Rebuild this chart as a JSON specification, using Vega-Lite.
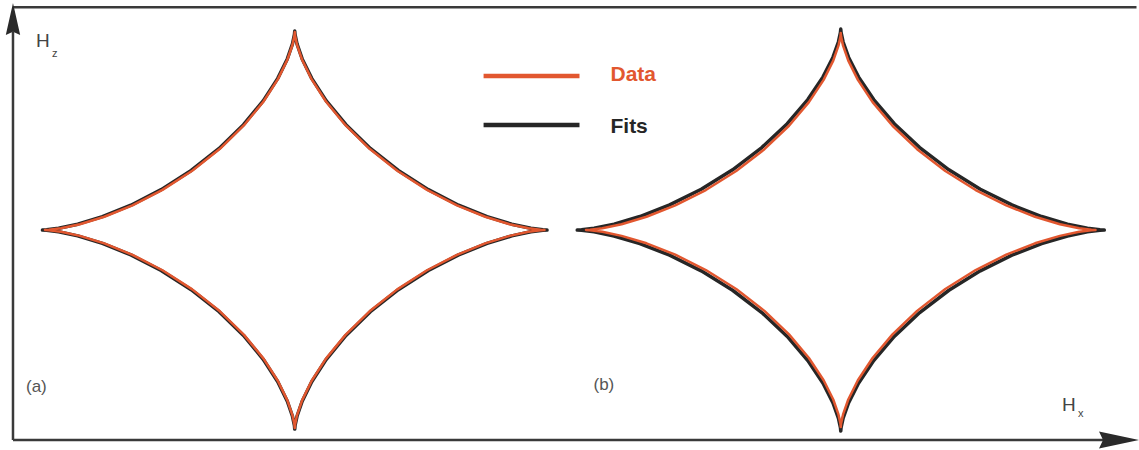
{
  "$schema": "https://vega.github.io/schema/vega-lite/v6.json",
  "autosize": {"type": "fit", "contains": "padding"},
  "width": 1139,
  "height": 450,
  "padding": 0,
  "background": "white",
  "config": {"view": {"stroke": null}, "font": "Liberation Sans"},
  "datasets": {
    "curves": [
      {"c":"aD","s":"Data","i":0,"x":1,"y":0},{"c":"aD","s":"Data","i":1,"x":0.9836,"y":0.0011},{"c":"aD","s":"Data","i":2,"x":0.9359,"y":0.009},{"c":"aD","s":"Data","i":3,"x":0.8602,"y":0.0295},{"c":"aD","s":"Data","i":4,"x":0.7624,"y":0.0673},{"c":"aD","s":"Data","i":5,"x":0.6495,"y":0.125},{"c":"aD","s":"Data","i":6,"x":0.5295,"y":0.2031},{"c":"aD","s":"Data","i":7,"x":0.4104,"y":0.2996},{"c":"aD","s":"Data","i":8,"x":0.2996,"y":0.4104},{"c":"aD","s":"Data","i":9,"x":0.2031,"y":0.5295},{"c":"aD","s":"Data","i":10,"x":0.125,"y":0.6495},{"c":"aD","s":"Data","i":11,"x":0.0673,"y":0.7624},{"c":"aD","s":"Data","i":12,"x":0.0295,"y":0.8602},{"c":"aD","s":"Data","i":13,"x":0.009,"y":0.9359},{"c":"aD","s":"Data","i":14,"x":0.0011,"y":0.9836},{"c":"aD","s":"Data","i":15,"x":0,"y":1},
      {"c":"aD","s":"Data","i":16,"x":-0.0011,"y":0.9836},{"c":"aD","s":"Data","i":17,"x":-0.009,"y":0.9359},{"c":"aD","s":"Data","i":18,"x":-0.0295,"y":0.8602},{"c":"aD","s":"Data","i":19,"x":-0.0673,"y":0.7624},{"c":"aD","s":"Data","i":20,"x":-0.125,"y":0.6495},{"c":"aD","s":"Data","i":21,"x":-0.2031,"y":0.5295},{"c":"aD","s":"Data","i":22,"x":-0.2996,"y":0.4104},{"c":"aD","s":"Data","i":23,"x":-0.4104,"y":0.2996},{"c":"aD","s":"Data","i":24,"x":-0.5295,"y":0.2031},{"c":"aD","s":"Data","i":25,"x":-0.6495,"y":0.125},{"c":"aD","s":"Data","i":26,"x":-0.7624,"y":0.0673},{"c":"aD","s":"Data","i":27,"x":-0.8602,"y":0.0295},{"c":"aD","s":"Data","i":28,"x":-0.9359,"y":0.009},{"c":"aD","s":"Data","i":29,"x":-0.9836,"y":0.0011},{"c":"aD","s":"Data","i":30,"x":-1,"y":0},
      {"c":"aD","s":"Data","i":31,"x":-0.9836,"y":-0.0011},{"c":"aD","s":"Data","i":32,"x":-0.9359,"y":-0.009},{"c":"aD","s":"Data","i":33,"x":-0.8602,"y":-0.0295},{"c":"aD","s":"Data","i":34,"x":-0.7624,"y":-0.0673},{"c":"aD","s":"Data","i":35,"x":-0.6495,"y":-0.125},{"c":"aD","s":"Data","i":36,"x":-0.5295,"y":-0.2031},{"c":"aD","s":"Data","i":37,"x":-0.4104,"y":-0.2996},{"c":"aD","s":"Data","i":38,"x":-0.2996,"y":-0.4104},{"c":"aD","s":"Data","i":39,"x":-0.2031,"y":-0.5295},{"c":"aD","s":"Data","i":40,"x":-0.125,"y":-0.6495},{"c":"aD","s":"Data","i":41,"x":-0.0673,"y":-0.7624},{"c":"aD","s":"Data","i":42,"x":-0.0295,"y":-0.8602},{"c":"aD","s":"Data","i":43,"x":-0.009,"y":-0.9359},{"c":"aD","s":"Data","i":44,"x":-0.0011,"y":-0.9836},{"c":"aD","s":"Data","i":45,"x":0,"y":-1},
      {"c":"aD","s":"Data","i":46,"x":0.0011,"y":-0.9836},{"c":"aD","s":"Data","i":47,"x":0.009,"y":-0.9359},{"c":"aD","s":"Data","i":48,"x":0.0295,"y":-0.8602},{"c":"aD","s":"Data","i":49,"x":0.0673,"y":-0.7624},{"c":"aD","s":"Data","i":50,"x":0.125,"y":-0.6495},{"c":"aD","s":"Data","i":51,"x":0.2031,"y":-0.5295},{"c":"aD","s":"Data","i":52,"x":0.2996,"y":-0.4104},{"c":"aD","s":"Data","i":53,"x":0.4104,"y":-0.2996},{"c":"aD","s":"Data","i":54,"x":0.5295,"y":-0.2031},{"c":"aD","s":"Data","i":55,"x":0.6495,"y":-0.125},{"c":"aD","s":"Data","i":56,"x":0.7624,"y":-0.0673},{"c":"aD","s":"Data","i":57,"x":0.8602,"y":-0.0295},{"c":"aD","s":"Data","i":58,"x":0.9359,"y":-0.009},{"c":"aD","s":"Data","i":59,"x":0.9836,"y":-0.0011},{"c":"aD","s":"Data","i":60,"x":1,"y":0},

      {"c":"aF","s":"Fits","i":0,"x":1.01,"y":0},{"c":"aF","s":"Fits","i":1,"x":0.9934,"y":0.0011},{"c":"aF","s":"Fits","i":2,"x":0.9453,"y":0.009},{"c":"aF","s":"Fits","i":3,"x":0.8688,"y":0.0296},{"c":"aF","s":"Fits","i":4,"x":0.77,"y":0.0676},{"c":"aF","s":"Fits","i":5,"x":0.656,"y":0.1256},{"c":"aF","s":"Fits","i":6,"x":0.5348,"y":0.2041},{"c":"aF","s":"Fits","i":7,"x":0.4145,"y":0.3011},{"c":"aF","s":"Fits","i":8,"x":0.3026,"y":0.4125},{"c":"aF","s":"Fits","i":9,"x":0.2051,"y":0.5321},{"c":"aF","s":"Fits","i":10,"x":0.1263,"y":0.6527},{"c":"aF","s":"Fits","i":11,"x":0.068,"y":0.7662},{"c":"aF","s":"Fits","i":12,"x":0.0298,"y":0.8645},{"c":"aF","s":"Fits","i":13,"x":0.0091,"y":0.9406},{"c":"aF","s":"Fits","i":14,"x":0.0011,"y":0.9885},{"c":"aF","s":"Fits","i":15,"x":0,"y":1.005},
      {"c":"aF","s":"Fits","i":16,"x":-0.0011,"y":0.9885},{"c":"aF","s":"Fits","i":17,"x":-0.0091,"y":0.9406},{"c":"aF","s":"Fits","i":18,"x":-0.0298,"y":0.8645},{"c":"aF","s":"Fits","i":19,"x":-0.068,"y":0.7662},{"c":"aF","s":"Fits","i":20,"x":-0.1263,"y":0.6527},{"c":"aF","s":"Fits","i":21,"x":-0.2051,"y":0.5321},{"c":"aF","s":"Fits","i":22,"x":-0.3026,"y":0.4125},{"c":"aF","s":"Fits","i":23,"x":-0.4145,"y":0.3011},{"c":"aF","s":"Fits","i":24,"x":-0.5348,"y":0.2041},{"c":"aF","s":"Fits","i":25,"x":-0.656,"y":0.1256},{"c":"aF","s":"Fits","i":26,"x":-0.77,"y":0.0676},{"c":"aF","s":"Fits","i":27,"x":-0.8688,"y":0.0296},{"c":"aF","s":"Fits","i":28,"x":-0.9453,"y":0.009},{"c":"aF","s":"Fits","i":29,"x":-0.9934,"y":0.0011},{"c":"aF","s":"Fits","i":30,"x":-1.01,"y":0},
      {"c":"aF","s":"Fits","i":31,"x":-0.9934,"y":-0.0011},{"c":"aF","s":"Fits","i":32,"x":-0.9453,"y":-0.009},{"c":"aF","s":"Fits","i":33,"x":-0.8688,"y":-0.0296},{"c":"aF","s":"Fits","i":34,"x":-0.77,"y":-0.0676},{"c":"aF","s":"Fits","i":35,"x":-0.656,"y":-0.1256},{"c":"aF","s":"Fits","i":36,"x":-0.5348,"y":-0.2041},{"c":"aF","s":"Fits","i":37,"x":-0.4145,"y":-0.3011},{"c":"aF","s":"Fits","i":38,"x":-0.3026,"y":-0.4125},{"c":"aF","s":"Fits","i":39,"x":-0.2051,"y":-0.5321},{"c":"aF","s":"Fits","i":40,"x":-0.1263,"y":-0.6527},{"c":"aF","s":"Fits","i":41,"x":-0.068,"y":-0.7662},{"c":"aF","s":"Fits","i":42,"x":-0.0298,"y":-0.8645},{"c":"aF","s":"Fits","i":43,"x":-0.0091,"y":-0.9406},{"c":"aF","s":"Fits","i":44,"x":-0.0011,"y":-0.9885},{"c":"aF","s":"Fits","i":45,"x":0,"y":-1.005},
      {"c":"aF","s":"Fits","i":46,"x":0.0011,"y":-0.9885},{"c":"aF","s":"Fits","i":47,"x":0.0091,"y":-0.9406},{"c":"aF","s":"Fits","i":48,"x":0.0298,"y":-0.8645},{"c":"aF","s":"Fits","i":49,"x":0.068,"y":-0.7662},{"c":"aF","s":"Fits","i":50,"x":0.1263,"y":-0.6527},{"c":"aF","s":"Fits","i":51,"x":0.2051,"y":-0.5321},{"c":"aF","s":"Fits","i":52,"x":0.3026,"y":-0.4125},{"c":"aF","s":"Fits","i":53,"x":0.4145,"y":-0.3011},{"c":"aF","s":"Fits","i":54,"x":0.5348,"y":-0.2041},{"c":"aF","s":"Fits","i":55,"x":0.656,"y":-0.1256},{"c":"aF","s":"Fits","i":56,"x":0.77,"y":-0.0676},{"c":"aF","s":"Fits","i":57,"x":0.8688,"y":-0.0296},{"c":"aF","s":"Fits","i":58,"x":0.9453,"y":-0.009},{"c":"aF","s":"Fits","i":59,"x":0.9934,"y":-0.0011},{"c":"aF","s":"Fits","i":60,"x":1.01,"y":0},

      {"c":"bD","s":"Data","i":0,"x":3.206,"y":0},{"c":"bD","s":"Data","i":1,"x":3.1893,"y":0.0011},{"c":"bD","s":"Data","i":2,"x":3.1406,"y":0.009},{"c":"bD","s":"Data","i":3,"x":3.0634,"y":0.0294},{"c":"bD","s":"Data","i":4,"x":2.9636,"y":0.067},{"c":"bD","s":"Data","i":5,"x":2.8485,"y":0.1244},{"c":"bD","s":"Data","i":6,"x":2.7261,"y":0.2021},{"c":"bD","s":"Data","i":7,"x":2.6046,"y":0.2981},{"c":"bD","s":"Data","i":8,"x":2.4916,"y":0.4083},{"c":"bD","s":"Data","i":9,"x":2.3932,"y":0.5269},{"c":"bD","s":"Data","i":10,"x":2.3135,"y":0.6463},{"c":"bD","s":"Data","i":11,"x":2.2546,"y":0.7586},{"c":"bD","s":"Data","i":12,"x":2.2161,"y":0.8559},{"c":"bD","s":"Data","i":13,"x":2.1952,"y":0.9312},{"c":"bD","s":"Data","i":14,"x":2.1871,"y":0.9787},{"c":"bD","s":"Data","i":15,"x":2.186,"y":0.995},
      {"c":"bD","s":"Data","i":16,"x":2.1849,"y":0.9787},{"c":"bD","s":"Data","i":17,"x":2.1768,"y":0.9312},{"c":"bD","s":"Data","i":18,"x":2.1559,"y":0.8559},{"c":"bD","s":"Data","i":19,"x":2.1174,"y":0.7586},{"c":"bD","s":"Data","i":20,"x":2.0585,"y":0.6463},{"c":"bD","s":"Data","i":21,"x":1.9788,"y":0.5269},{"c":"bD","s":"Data","i":22,"x":1.8804,"y":0.4083},{"c":"bD","s":"Data","i":23,"x":1.7674,"y":0.2981},{"c":"bD","s":"Data","i":24,"x":1.6459,"y":0.2021},{"c":"bD","s":"Data","i":25,"x":1.5235,"y":0.1244},{"c":"bD","s":"Data","i":26,"x":1.4084,"y":0.067},{"c":"bD","s":"Data","i":27,"x":1.3086,"y":0.0294},{"c":"bD","s":"Data","i":28,"x":1.2314,"y":0.009},{"c":"bD","s":"Data","i":29,"x":1.1827,"y":0.0011},{"c":"bD","s":"Data","i":30,"x":1.166,"y":0},
      {"c":"bD","s":"Data","i":31,"x":1.1827,"y":-0.0011},{"c":"bD","s":"Data","i":32,"x":1.2314,"y":-0.009},{"c":"bD","s":"Data","i":33,"x":1.3086,"y":-0.0294},{"c":"bD","s":"Data","i":34,"x":1.4084,"y":-0.067},{"c":"bD","s":"Data","i":35,"x":1.5235,"y":-0.1244},{"c":"bD","s":"Data","i":36,"x":1.6459,"y":-0.2021},{"c":"bD","s":"Data","i":37,"x":1.7674,"y":-0.2981},{"c":"bD","s":"Data","i":38,"x":1.8804,"y":-0.4083},{"c":"bD","s":"Data","i":39,"x":1.9788,"y":-0.5269},{"c":"bD","s":"Data","i":40,"x":2.0585,"y":-0.6463},{"c":"bD","s":"Data","i":41,"x":2.1174,"y":-0.7586},{"c":"bD","s":"Data","i":42,"x":2.1559,"y":-0.8559},{"c":"bD","s":"Data","i":43,"x":2.1768,"y":-0.9312},{"c":"bD","s":"Data","i":44,"x":2.1849,"y":-0.9787},{"c":"bD","s":"Data","i":45,"x":2.186,"y":-0.995},
      {"c":"bD","s":"Data","i":46,"x":2.1871,"y":-0.9787},{"c":"bD","s":"Data","i":47,"x":2.1952,"y":-0.9312},{"c":"bD","s":"Data","i":48,"x":2.2161,"y":-0.8559},{"c":"bD","s":"Data","i":49,"x":2.2546,"y":-0.7586},{"c":"bD","s":"Data","i":50,"x":2.3135,"y":-0.6463},{"c":"bD","s":"Data","i":51,"x":2.3932,"y":-0.5269},{"c":"bD","s":"Data","i":52,"x":2.4916,"y":-0.4083},{"c":"bD","s":"Data","i":53,"x":2.6046,"y":-0.2981},{"c":"bD","s":"Data","i":54,"x":2.7261,"y":-0.2021},{"c":"bD","s":"Data","i":55,"x":2.8485,"y":-0.1244},{"c":"bD","s":"Data","i":56,"x":2.9636,"y":-0.067},{"c":"bD","s":"Data","i":57,"x":3.0634,"y":-0.0294},{"c":"bD","s":"Data","i":58,"x":3.1406,"y":-0.009},{"c":"bD","s":"Data","i":59,"x":3.1893,"y":-0.0011},{"c":"bD","s":"Data","i":60,"x":3.206,"y":0},

      {"c":"bF","s":"Fits","i":0,"x":3.241,"y":0},{"c":"bF","s":"Fits","i":1,"x":3.2237,"y":0.0011},{"c":"bF","s":"Fits","i":2,"x":3.1734,"y":0.0091},{"c":"bF","s":"Fits","i":3,"x":3.0935,"y":0.0299},{"c":"bF","s":"Fits","i":4,"x":2.9903,"y":0.0683},{"c":"bF","s":"Fits","i":5,"x":2.8712,"y":0.1269},{"c":"bF","s":"Fits","i":6,"x":2.7446,"y":0.2061},{"c":"bF","s":"Fits","i":7,"x":2.619,"y":0.3041},{"c":"bF","s":"Fits","i":8,"x":2.5021,"y":0.4166},{"c":"bF","s":"Fits","i":9,"x":2.4003,"y":0.5374},{"c":"bF","s":"Fits","i":10,"x":2.3179,"y":0.6592},{"c":"bF","s":"Fits","i":11,"x":2.257,"y":0.7738},{"c":"bF","s":"Fits","i":12,"x":2.2171,"y":0.8731},{"c":"bF","s":"Fits","i":13,"x":2.1955,"y":0.9499},{"c":"bF","s":"Fits","i":14,"x":2.1872,"y":0.9984},{"c":"bF","s":"Fits","i":15,"x":2.186,"y":1.015},
      {"c":"bF","s":"Fits","i":16,"x":2.1848,"y":0.9984},{"c":"bF","s":"Fits","i":17,"x":2.1765,"y":0.9499},{"c":"bF","s":"Fits","i":18,"x":2.1549,"y":0.8731},{"c":"bF","s":"Fits","i":19,"x":2.115,"y":0.7738},{"c":"bF","s":"Fits","i":20,"x":2.0541,"y":0.6592},{"c":"bF","s":"Fits","i":21,"x":1.9717,"y":0.5374},{"c":"bF","s":"Fits","i":22,"x":1.8699,"y":0.4166},{"c":"bF","s":"Fits","i":23,"x":1.753,"y":0.3041},{"c":"bF","s":"Fits","i":24,"x":1.6274,"y":0.2061},{"c":"bF","s":"Fits","i":25,"x":1.5008,"y":0.1269},{"c":"bF","s":"Fits","i":26,"x":1.3817,"y":0.0683},{"c":"bF","s":"Fits","i":27,"x":1.2785,"y":0.0299},{"c":"bF","s":"Fits","i":28,"x":1.1986,"y":0.0091},{"c":"bF","s":"Fits","i":29,"x":1.1483,"y":0.0011},{"c":"bF","s":"Fits","i":30,"x":1.131,"y":0},
      {"c":"bF","s":"Fits","i":31,"x":1.1483,"y":-0.0011},{"c":"bF","s":"Fits","i":32,"x":1.1986,"y":-0.0091},{"c":"bF","s":"Fits","i":33,"x":1.2785,"y":-0.0299},{"c":"bF","s":"Fits","i":34,"x":1.3817,"y":-0.0683},{"c":"bF","s":"Fits","i":35,"x":1.5008,"y":-0.1269},{"c":"bF","s":"Fits","i":36,"x":1.6274,"y":-0.2061},{"c":"bF","s":"Fits","i":37,"x":1.753,"y":-0.3041},{"c":"bF","s":"Fits","i":38,"x":1.8699,"y":-0.4166},{"c":"bF","s":"Fits","i":39,"x":1.9717,"y":-0.5374},{"c":"bF","s":"Fits","i":40,"x":2.0541,"y":-0.6592},{"c":"bF","s":"Fits","i":41,"x":2.115,"y":-0.7738},{"c":"bF","s":"Fits","i":42,"x":2.1549,"y":-0.8731},{"c":"bF","s":"Fits","i":43,"x":2.1765,"y":-0.9499},{"c":"bF","s":"Fits","i":44,"x":2.1848,"y":-0.9984},{"c":"bF","s":"Fits","i":45,"x":2.186,"y":-1.015},
      {"c":"bF","s":"Fits","i":46,"x":2.1872,"y":-0.9984},{"c":"bF","s":"Fits","i":47,"x":2.1955,"y":-0.9499},{"c":"bF","s":"Fits","i":48,"x":2.2171,"y":-0.8731},{"c":"bF","s":"Fits","i":49,"x":2.257,"y":-0.7738},{"c":"bF","s":"Fits","i":50,"x":2.3179,"y":-0.6592},{"c":"bF","s":"Fits","i":51,"x":2.4003,"y":-0.5374},{"c":"bF","s":"Fits","i":52,"x":2.5021,"y":-0.4166},{"c":"bF","s":"Fits","i":53,"x":2.619,"y":-0.3041},{"c":"bF","s":"Fits","i":54,"x":2.7446,"y":-0.2061},{"c":"bF","s":"Fits","i":55,"x":2.8712,"y":-0.1269},{"c":"bF","s":"Fits","i":56,"x":2.9903,"y":-0.0683},{"c":"bF","s":"Fits","i":57,"x":3.0935,"y":-0.0299},{"c":"bF","s":"Fits","i":58,"x":3.1734,"y":-0.0091},{"c":"bF","s":"Fits","i":59,"x":3.2237,"y":-0.0011},{"c":"bF","s":"Fits","i":60,"x":3.241,"y":0}
    ],
    "frame": [
      {"part":"top","x":-1.128,"x2":3.37,"y":1.126,"y2":1.126},
      {"part":"zaxis","x":-1.128,"x2":-1.128,"y":-1.0606,"y2":1.0},
      {"part":"xaxis","x":-1.128,"x2":3.27,"y":-1.0606,"y2":-1.0606}
    ],
    "arrows": [
      {"axis":"z","x":-1.128,"y":1.066},
      {"axis":"x","x":3.3,"y":-1.0606}
    ],
    "legend": [
      {"s":"Data","x":0.756,"x2":1.14,"y":0.7778,"ty":0.7828,"tx":1.264},
      {"s":"Fits","x":0.756,"x2":1.14,"y":0.5303,"ty":0.5202,"tx":1.264}
    ],
    "labels": [
      {"role":"axis","t":"H","x":-1.036,"y":0.9545},
      {"role":"sub","t":"z","x":-0.972,"y":0.889},
      {"role":"axis","t":"H","x":3.072,"y":-0.884},
      {"role":"sub","t":"x","x":3.136,"y":-0.929},
      {"role":"panel","t":"(a)","x":-1.076,"y":-0.793},
      {"role":"panel","t":"(b)","x":1.196,"y":-0.783}
    ]
  },
  "layer": [
    {
      "data": {"name": "frame"},
      "mark": {"type": "rule", "color": "#3a3a3a", "strokeWidth": 2.5},
      "encoding": {
        "x": {"field": "x", "type": "quantitative", "scale": {"domain": [-1.18, 3.376], "nice": false, "zero": false}, "axis": null},
        "x2": {"field": "x2"},
        "y": {"field": "y", "type": "quantitative", "scale": {"domain": [-1.111, 1.162], "nice": false, "zero": false}, "axis": null},
        "y2": {"field": "y2"}
      }
    },
    {
      "data": {"name": "arrows"},
      "transform": [{"filter": "datum.axis === 'z'"}],
      "mark": {"type": "point", "shape": "M0,-1L0.45,1L0,0.8L-0.45,1Z", "filled": true, "color": "#2a2a2a", "opacity": 1, "size": 1024},
      "encoding": {
        "x": {"field": "x", "type": "quantitative"},
        "y": {"field": "y", "type": "quantitative"}
      }
    },
    {
      "data": {"name": "arrows"},
      "transform": [{"filter": "datum.axis === 'x'"}],
      "mark": {"type": "point", "shape": "M1,0L-1,0.42L-0.8,0L-1,-0.42Z", "filled": true, "color": "#2a2a2a", "opacity": 1, "size": 1600},
      "encoding": {
        "x": {"field": "x", "type": "quantitative"},
        "y": {"field": "y", "type": "quantitative"}
      }
    },
    {
      "data": {"name": "curves"},
      "transform": [{"filter": "datum.s === 'Fits'"}],
      "mark": {"type": "line", "strokeWidth": 3.5, "strokeJoin": "round", "strokeCap": "round"},
      "encoding": {
        "x": {"field": "x", "type": "quantitative"},
        "y": {"field": "y", "type": "quantitative"},
        "detail": {"field": "c"},
        "order": {"field": "i", "type": "quantitative"},
        "color": {"field": "s", "type": "nominal", "scale": {"domain": ["Data", "Fits"], "range": ["#e2572f", "#262626"]}, "legend": null}
      }
    },
    {
      "data": {"name": "curves"},
      "transform": [{"filter": "datum.s === 'Data'"}],
      "mark": {"type": "line", "strokeWidth": 2.5, "strokeJoin": "round", "strokeCap": "round"},
      "encoding": {
        "x": {"field": "x", "type": "quantitative"},
        "y": {"field": "y", "type": "quantitative"},
        "detail": {"field": "c"},
        "order": {"field": "i", "type": "quantitative"},
        "color": {"field": "s", "type": "nominal", "legend": null}
      }
    },
    {
      "data": {"name": "legend"},
      "mark": {"type": "rule", "strokeWidth": 4.5},
      "encoding": {
        "x": {"field": "x", "type": "quantitative"},
        "x2": {"field": "x2"},
        "y": {"field": "y", "type": "quantitative"},
        "color": {"field": "s", "type": "nominal", "legend": null}
      }
    },
    {
      "data": {"name": "legend"},
      "mark": {"type": "text", "align": "left", "baseline": "middle", "fontSize": 21, "fontWeight": "bold", "font": "Liberation Sans"},
      "encoding": {
        "x": {"field": "tx", "type": "quantitative"},
        "y": {"field": "ty", "type": "quantitative"},
        "text": {"field": "s"},
        "color": {"field": "s", "type": "nominal", "legend": null}
      }
    },
    {
      "data": {"name": "labels"},
      "transform": [{"filter": "datum.role === 'axis'"}],
      "mark": {"type": "text", "align": "left", "baseline": "middle", "fontSize": 19, "color": "#444444", "font": "Liberation Sans"},
      "encoding": {
        "x": {"field": "x", "type": "quantitative"},
        "y": {"field": "y", "type": "quantitative"},
        "text": {"field": "t"}
      }
    },
    {
      "data": {"name": "labels"},
      "transform": [{"filter": "datum.role === 'sub'"}],
      "mark": {"type": "text", "align": "left", "baseline": "middle", "fontSize": 11, "color": "#444444", "font": "Liberation Sans"},
      "encoding": {
        "x": {"field": "x", "type": "quantitative"},
        "y": {"field": "y", "type": "quantitative"},
        "text": {"field": "t"}
      }
    },
    {
      "data": {"name": "labels"},
      "transform": [{"filter": "datum.role === 'panel'"}],
      "mark": {"type": "text", "align": "left", "baseline": "middle", "fontSize": 17, "color": "#555555", "font": "Liberation Sans"},
      "encoding": {
        "x": {"field": "x", "type": "quantitative"},
        "y": {"field": "y", "type": "quantitative"},
        "text": {"field": "t"}
      }
    }
  ]
}
